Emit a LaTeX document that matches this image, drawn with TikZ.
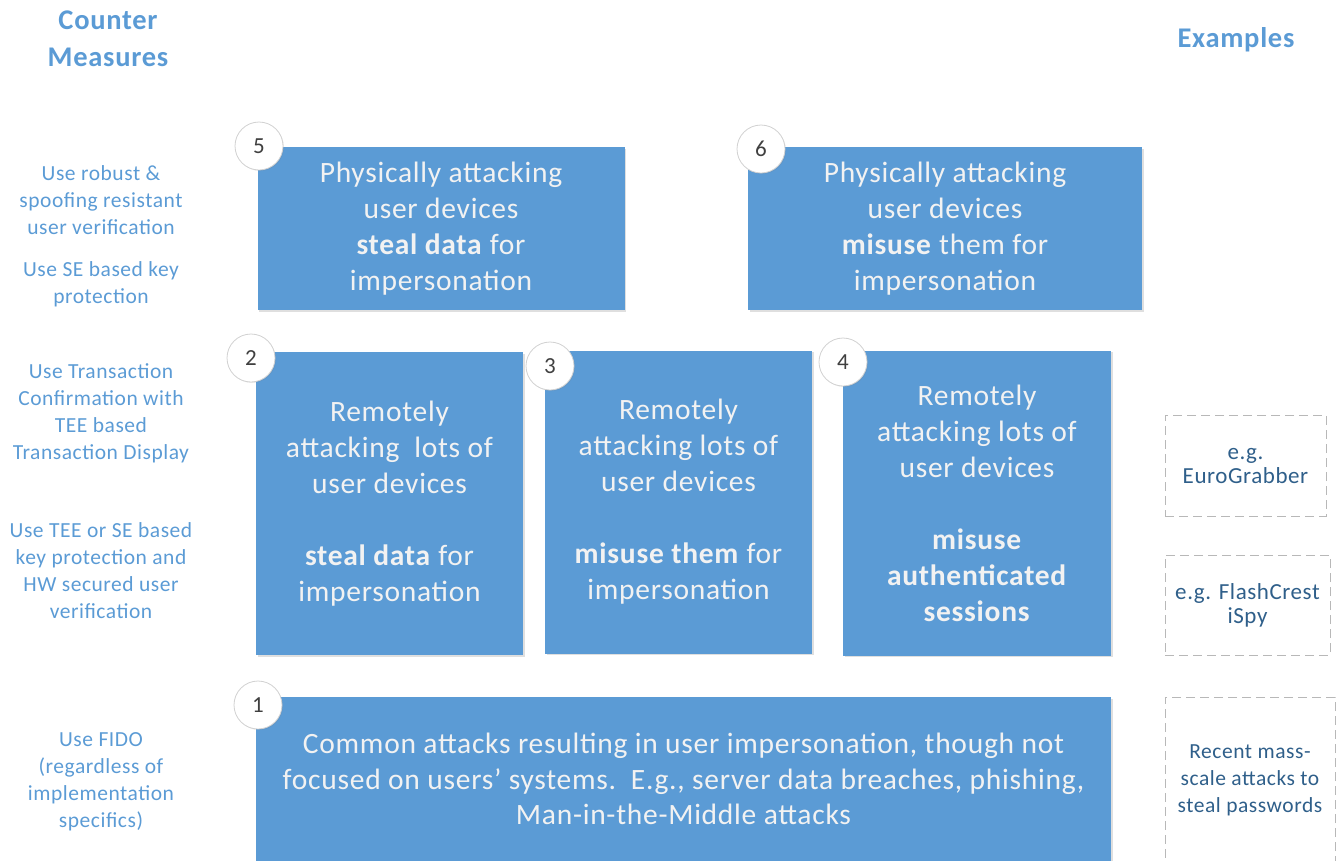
\documentclass[tikz,border=0pt]{standalone}
\usepackage{fontspec}
\setmainfont{Carlito}[LetterSpace=2.5]
\usetikzlibrary{shadows}
\definecolor{boxblue}{HTML}{5B9BD5}
\definecolor{lefttext}{HTML}{5B9BD5}
\definecolor{exdark}{HTML}{2F5F8A}
\definecolor{numgray}{HTML}{404040}
\tikzset{
  box/.style={rectangle, fill=boxblue, inner sep=0pt, align=center,
    text=white!95!black, font=\fontsize{29.5}{36}\selectfont,
    drop shadow={opacity=0.25, shadow xshift=1.5pt, shadow yshift=-1.5pt}},
  num/.style={circle, fill=white, draw=black!18, line width=0.8pt, minimum size=48pt,
    inner sep=0pt, text=numgray, font=\fontsize{23}{26}\selectfont,
    drop shadow={opacity=0.15, shadow xshift=1pt, shadow yshift=-1pt}},
  cmtext/.style={align=center, text=lefttext, font=\fontsize{21.5}{27}\selectfont, inner sep=0pt},
  head/.style={align=center, text=lefttext, font=\fontsize{28.5}{37}\selectfont\bfseries, inner sep=0pt},
  ex/.style={rectangle, draw=black!28, dash pattern=on 9pt off 5pt, line width=0.9pt,
    align=center, text=exdark, inner sep=0pt},
}
\begin{document}
\begin{tikzpicture}[x=1pt, y=-1pt]
\useasboundingbox (0,0) rectangle (1336,860);
% headings
\node[head] (hcm) at (108,38.5) {Counter\\Measures};
\node[head] (hex) at (1236,40) {Examples};
% boxes
\node[box, minimum width=367pt, minimum height=163pt] (b5) at (441,228.5)
  {Physically attacking\\user devices\\\textbf{steal data} for\\impersonation};
\node[box, minimum width=394pt, minimum height=163pt] (b6) at (945,228.5)
  {Physically attacking\\user devices\\\textbf{misuse} them for\\impersonation};
\node[box, minimum width=267pt, minimum height=303pt] (b2) at (389.5,503.5)
  {Remotely\\attacking\ \ lots of\\user devices\\[36pt]\textbf{steal data} for\\impersonation};
\node[box, minimum width=267pt, minimum height=303pt] (b3) at (678.5,502)
  {Remotely\\attacking lots of\\user devices\\[36pt]\textbf{misuse them} for\\impersonation};
\node[box, minimum width=268pt, minimum height=305pt] (b4) at (977,503)
  {Remotely\\attacking lots of\\user devices\\[36pt]\textbf{misuse}\\\textbf{authenticated}\\\textbf{sessions}};
\node[box, minimum width=855pt, minimum height=164pt, font=\fontsize{29.5}{35.5}\selectfont] (b1) at (683.5,779)
  {Common attacks resulting in user impersonation, though not\\focused on users\char39\ systems.\ \ E.g., server data breaches, phishing,\\Man-in-the-Middle attacks};
% numbers
\node[num] (n5) at (259,146) {5};
\node[num] (n6) at (761,149) {6};
\node[num] (n2) at (251,358) {2};
\node[num] (n3) at (550,366) {3};
\node[num] (n4) at (843,362) {4};
\node[num] (n1) at (258,705) {1};
% counter measures
\node[cmtext] (c1) at (101,200) {Use robust \&\\spoofing resistant\\user verification};
\node[cmtext] (c2) at (101,284.5) {Use SE based key\\protection};
\node[cmtext] (c3) at (101,413.5) {Use Transaction\\Confirmation with\\TEE based\\Transaction Display};
\node[cmtext] (c4) at (101,570.5) {Use TEE or SE based\\key protection and\\HW secured user\\verification};
\node[cmtext] (c5) at (101,782) {Use FIDO\\(regardless of\\implementation\\specifics)};
% examples
\node[ex, minimum width=161pt, minimum height=101pt, font=\fontsize{23}{24}\selectfont] (e1) at (1245.5,465.5) {e.g.\\EuroGrabber};
\node[ex, minimum width=165pt, minimum height=100pt, font=\fontsize{23}{24}\selectfont] (e2) at (1247.5,605) {e.g. FlashCrest\\iSpy};
\node[ex, minimum width=170pt, minimum height=166pt, font=\fontsize{21.5}{27}\selectfont] (e3) at (1250,780) {Recent mass-\\scale attacks to\\steal passwords};
\end{tikzpicture}
\end{document}
